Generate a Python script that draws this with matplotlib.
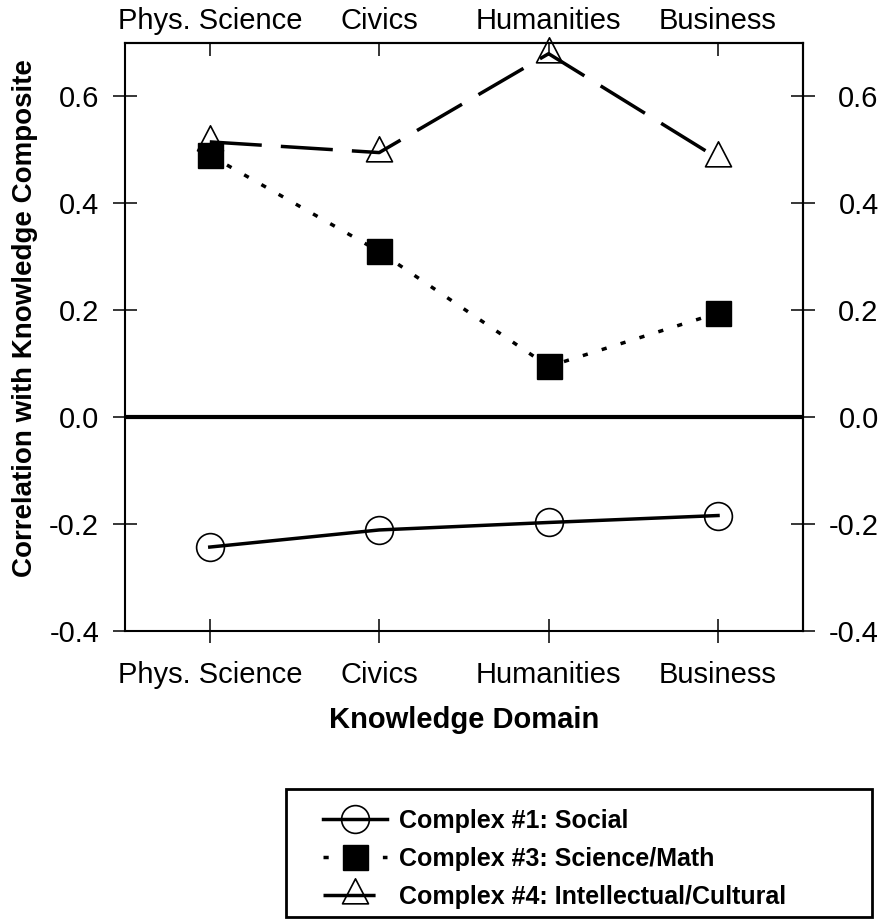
import matplotlib.pyplot as plt
import numpy as np
from matplotlib.path import Path
from matplotlib.patches import Rectangle

plt.rcParams['font.family'] = ['Liberation Sans', 'DejaVu Sans']

domains = ['Phys. Science', 'Civics', 'Humanities', 'Business']
social = [-0.243, -0.211, -0.197, -0.184]
sci_math = [0.49, 0.31, 0.095, 0.195]
intel = [0.515, 0.495, 0.68, 0.484]

x = np.arange(len(domains))

# triangle whose anchor sits low, near the centroid
tri = Path([(0, 1), (-0.78, -0.5), (0.78, -0.5), (0, 1)],
           [Path.MOVETO, Path.LINETO, Path.LINETO, Path.CLOSEPOLY])

fig = plt.figure(figsize=(8.87, 9.19), dpi=100)
ax = fig.add_axes([0.141, 0.3134, 0.764, 0.6398])

ax.axhline(0, color='black', lw=3, zorder=1)

ax.plot(x, social, color='black', lw=2.5, marker='o', ms=20, mfc='none',
        mec='black', mew=1.2, label='Complex #1: Social', zorder=3)
ax.plot(x, sci_math, color='black', lw=2.5, ls=(0, (1.5, 4.2)), marker='s', ms=18,
        mfc='black', mec='black', label='Complex #3: Science/Math', zorder=4)
ax.plot(x, intel, color='black', lw=2.5, ls=(0, (15, 5.5)), marker=tri, ms=24,
        mfc='none', mec='black', mew=1.2, label='Complex #4: Intellectual/Cultural',
        zorder=3, clip_on=False)

ax.set_xlim(-0.5, 3.5)
ax.set_ylim(-0.4, 0.7)
ax.set_xticks(x)
ax.set_xticklabels(domains)
yt = [-0.4, -0.2, 0.0, 0.2, 0.4, 0.6]
ytl = ['-0.4', '-0.2', '0.0', '0.2', '0.4', '0.6']
ax.set_yticks(yt)
ax.set_yticklabels(ytl)
ax.tick_params(axis='both', direction='inout', length=17.3, width=1.1, labelsize=21)
ax.tick_params(axis='y', pad=10)
ax.tick_params(axis='x', pad=13)

top = ax.secondary_xaxis('top')
top.set_xticks(x)
top.set_xticklabels(domains)
top.tick_params(direction='in', length=9.4, width=1.1, labelsize=21, pad=6)

right = ax.secondary_yaxis('right')
right.set_yticks(yt)
right.set_yticklabels(ytl)
right.tick_params(direction='inout', length=17.3, width=1.1, labelsize=21, pad=46)
plt.setp(right.get_yticklabels(), ha='right')

for s in ax.spines.values():
    s.set_linewidth(1.5)
top.spines['top'].set_linewidth(1.5)
right.spines['right'].set_linewidth(1.5)

ax.set_xlabel('Knowledge Domain', fontsize=21, fontweight='bold', labelpad=12)
ax.set_ylabel('Correlation with Knowledge Composite', fontsize=20, fontweight='bold')
ax.yaxis.set_label_coords(-0.128, 0.532)

leg = fig.legend(loc='upper left', bbox_to_anchor=(0.364, 0.1195),
                 prop={'weight': 'bold', 'size': 18}, frameon=False,
                 handlelength=2.55, handletextpad=0.5,
                 borderpad=0, labelspacing=0.55, borderaxespad=0)

# legend box is much wider than its content
fig.patches.append(Rectangle((0.322, 0.002), 0.661, 0.139, transform=fig.transFigure,
                             fill=False, edgecolor='black', lw=2))

fig.savefig('out.png', dpi=100)
